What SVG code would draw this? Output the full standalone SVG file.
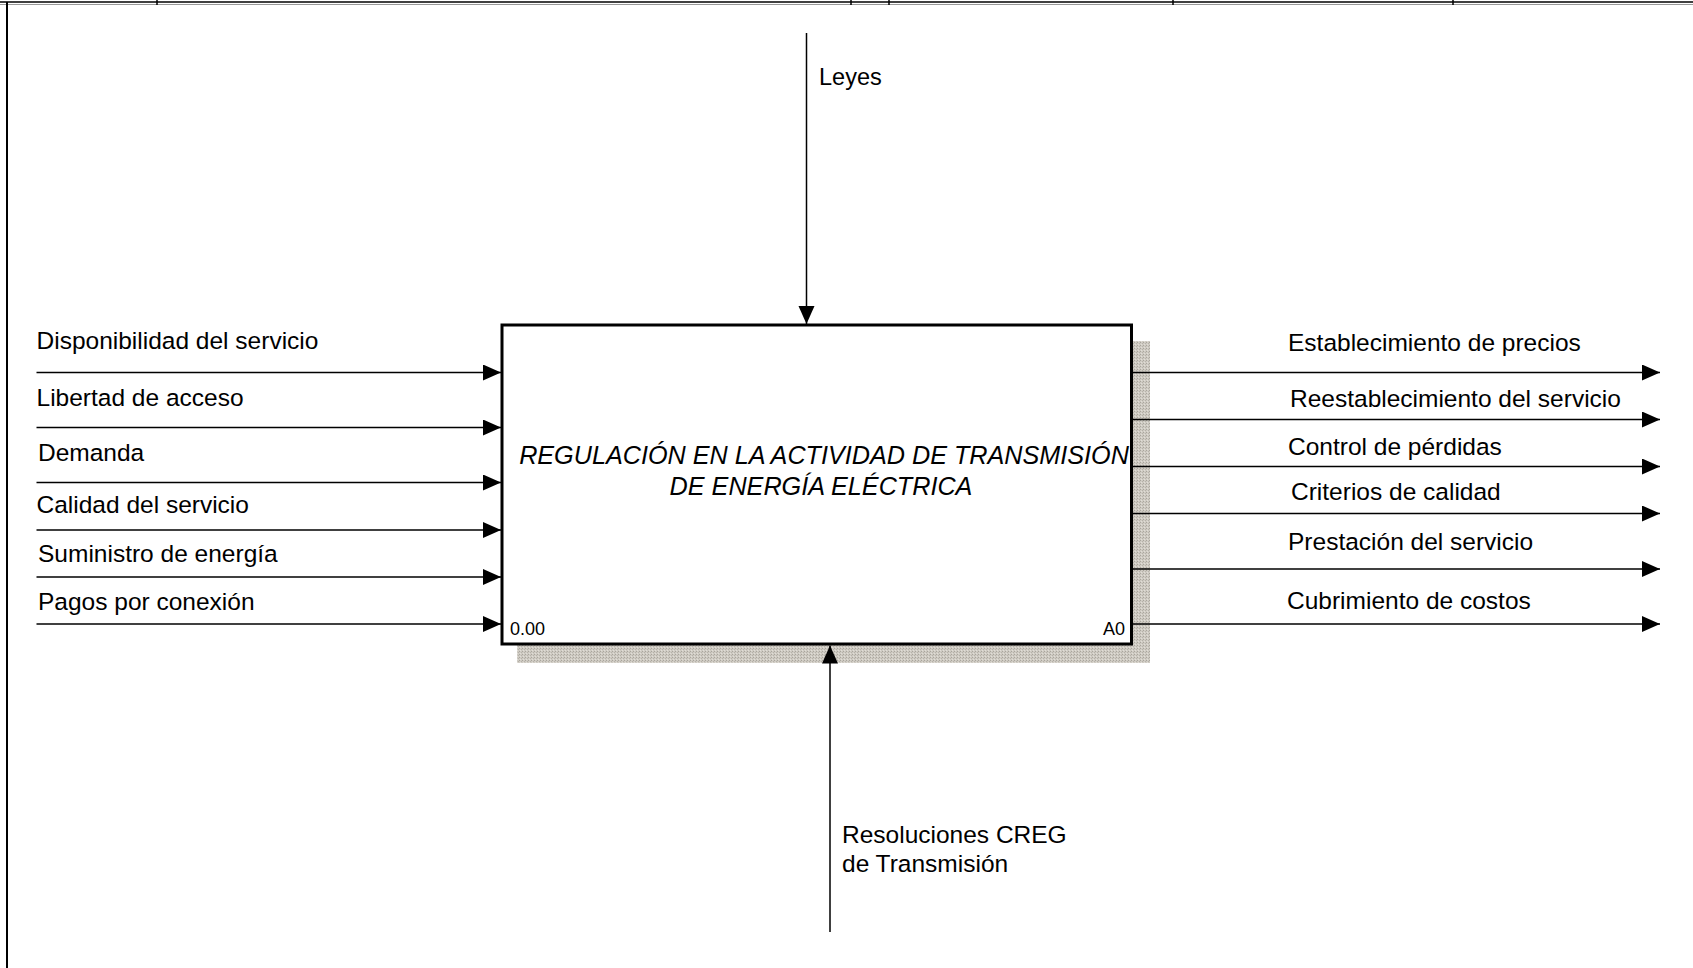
<svg xmlns="http://www.w3.org/2000/svg" width="1693" height="968" viewBox="0 0 1693 968">
<style>
.lbl{font-family:"Liberation Sans",Arial,sans-serif;font-size:24.5px;fill:#000}
.ttl{font-family:"Liberation Sans",Arial,sans-serif;font-size:25.2px;font-style:italic;fill:#000}
.small{font-family:"Liberation Sans",Arial,sans-serif;font-size:18px;fill:#000}
.conn{stroke:#000;stroke-width:1.5;fill:none}
.frame{stroke:#000;stroke-width:1.5;fill:none}
</style>
<defs>
<pattern id="hatch" width="3" height="3" patternUnits="userSpaceOnUse">
<rect width="3" height="3" fill="#cfcbc3"/>
<rect x="0" y="0" width="1" height="1" fill="#a9a59d"/>
<rect x="2" y="1" width="1" height="1" fill="#b6b2aa"/>
<rect x="1" y="2" width="1" height="1" fill="#e0ddd7"/>
</pattern>
<marker id="arr" markerUnits="userSpaceOnUse" markerWidth="20" markerHeight="18" refX="18" refY="8" orient="auto">
<path d="M0,0 L18,8 L0,16 Z" fill="#000"/>
</marker>
</defs>
<rect width="1693" height="968" fill="#fff"/>
<g id="frame">
<line x1="0" y1="2" x2="1693" y2="2" class="frame"/>
<line x1="0" y1="4.5" x2="1693" y2="4.5" stroke="#999" stroke-width="1"/>
<line x1="7" y1="2" x2="7" y2="968" stroke="#000" stroke-width="2"/>
<line x1="157" y1="0" x2="157" y2="5" class="frame"/>
<line x1="851" y1="0" x2="851" y2="5" class="frame"/>
<line x1="889" y1="0" x2="889" y2="5" class="frame"/>
<line x1="1173" y1="0" x2="1173" y2="5" class="frame"/>
<line x1="1453" y1="0" x2="1453" y2="5" class="frame"/>
</g>
<g id="A0">
<rect x="517" y="341" width="633" height="322" fill="url(#hatch)"/>
<rect x="502" y="325" width="629.5" height="319" fill="#fff" stroke="#000" stroke-width="3"/>
<text class="ttl" x="824" y="464" text-anchor="middle">REGULACIÓN EN LA ACTIVIDAD DE TRANSMISIÓN</text>
<text class="ttl" x="821" y="495" text-anchor="middle">DE ENERGÍA ELÉCTRICA</text>
<text class="small" x="510" y="635">0.00</text>
<text class="small" x="1125" y="635" text-anchor="end">A0</text>
</g>
<g id="connectors">
<line x1="806.5" y1="33" x2="806.5" y2="324" class="conn" marker-end="url(#arr)"/>
<line x1="830" y1="932" x2="830" y2="645.5" class="conn" marker-end="url(#arr)"/>
<line x1="36.5" y1="372.5" x2="501" y2="372.5" class="conn" marker-end="url(#arr)"/>
<line x1="36.5" y1="427.5" x2="501" y2="427.5" class="conn" marker-end="url(#arr)"/>
<line x1="36.5" y1="482.5" x2="501" y2="482.5" class="conn" marker-end="url(#arr)"/>
<line x1="36.5" y1="530" x2="501" y2="530" class="conn" marker-end="url(#arr)"/>
<line x1="36.5" y1="577" x2="501" y2="577" class="conn" marker-end="url(#arr)"/>
<line x1="36.5" y1="624" x2="501" y2="624" class="conn" marker-end="url(#arr)"/>
<line x1="1133" y1="372.5" x2="1660" y2="372.5" class="conn" marker-end="url(#arr)"/>
<line x1="1133" y1="419.5" x2="1660" y2="419.5" class="conn" marker-end="url(#arr)"/>
<line x1="1133" y1="466.5" x2="1660" y2="466.5" class="conn" marker-end="url(#arr)"/>
<line x1="1133" y1="513.5" x2="1660" y2="513.5" class="conn" marker-end="url(#arr)"/>
<line x1="1133" y1="569" x2="1660" y2="569" class="conn" marker-end="url(#arr)"/>
<line x1="1133" y1="624" x2="1660" y2="624" class="conn" marker-end="url(#arr)"/>
</g>
<g id="labels">
<text class="lbl" x="819" y="85" style="font-size:23.5px">Leyes</text>
<text class="lbl" x="36.5" y="349">Disponibilidad del servicio</text>
<text class="lbl" x="36.5" y="406">Libertad de acceso</text>
<text class="lbl" x="38" y="461">Demanda</text>
<text class="lbl" x="36.5" y="513">Calidad del servicio</text>
<text class="lbl" x="38" y="562">Suministro de energía</text>
<text class="lbl" x="38" y="610">Pagos por conexión</text>
<text class="lbl" x="1288" y="351">Establecimiento de precios</text>
<text class="lbl" x="1290" y="406.5">Reestablecimiento del servicio</text>
<text class="lbl" x="1288" y="455">Control de pérdidas</text>
<text class="lbl" x="1291" y="500">Criterios de calidad</text>
<text class="lbl" x="1288" y="550">Prestación del servicio</text>
<text class="lbl" x="1287" y="609">Cubrimiento de costos</text>
<text class="lbl" x="842" y="843">Resoluciones CREG</text>
<text class="lbl" x="842" y="871.5">de Transmisión</text>
</g>
</svg>
